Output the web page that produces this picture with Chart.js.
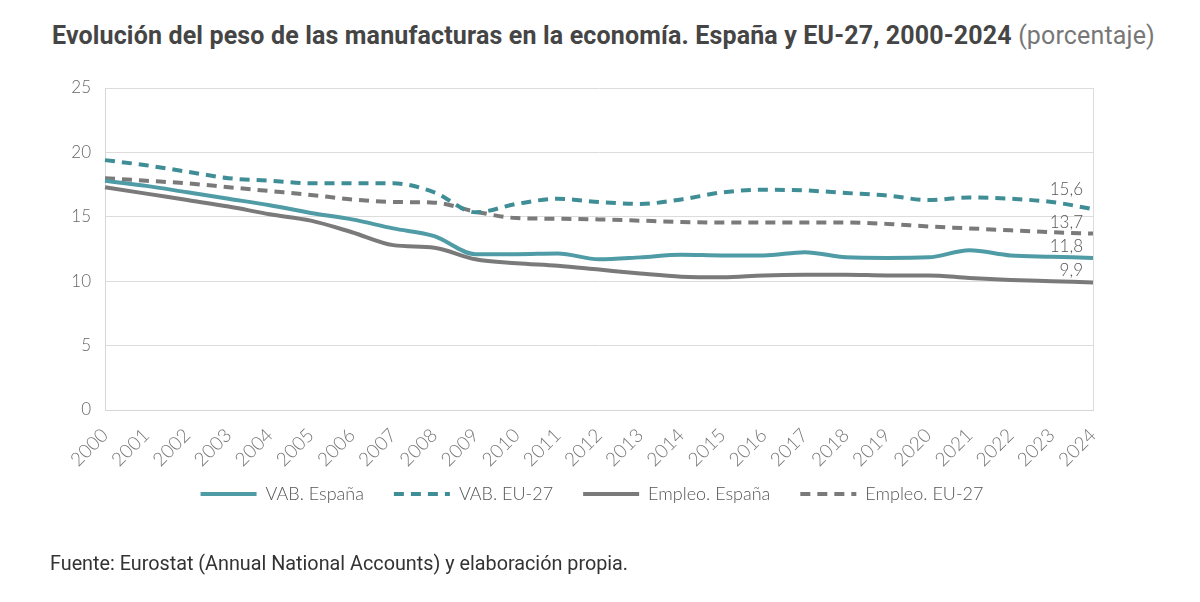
<!DOCTYPE html>
<html lang="es">
<head>
    <meta charset="UTF-8" />
    <title>Evolución del peso de las manufacturas</title>
    <script src="https://cdn.jsdelivr.net/npm/chart.js"></script>
    <style>
        * { box-sizing: border-box; margin: 0; padding: 0; }
        body { width: 1200px; height: 602px; background: #fff; position: relative; overflow: hidden; }
        .title {
            position: absolute; left: 52px; top: 21px;
            font-family: 'Roboto', sans-serif; letter-spacing: 0.15px;
            font-size: 25px; font-weight: 700; color: #454545; white-space: nowrap;
        }
        .title span { font-weight: 400; color: #777; }
        .source {
            position: absolute; left: 50px; top: 552px;
            font-family: 'Roboto', sans-serif;
            font-size: 19.8px; color: #333; white-space: nowrap;
        }
        .chart-box { position: absolute; left: 0; top: 0; width: 1200px; height: 602px; }
    </style>
</head>
<body>
    <div class="title">Evolución del peso de las manufacturas en la economía. España y EU-27, 2000-2024 <span>(porcentaje)</span></div>
    <div class="chart-box"><canvas id="chart"></canvas></div>
    <div class="source">Fuente: Eurostat (Annual National Accounts) y elaboración propia.</div>

    <script>
        const years = ['2000','2001','2002','2003','2004','2005','2006','2007','2008','2009','2010','2011','2012',
                       '2013','2014','2015','2016','2017','2018','2019','2020','2021','2022','2023','2024'];
        const vabEspana = [17.8, 17.4, 16.9, 16.4, 15.9, 15.3, 14.8, 14.1, 13.5, 12.1, 12.1, 12.15, 11.7,
                           11.85, 12.05, 12.0, 12.0, 12.25, 11.85, 11.8, 11.85, 12.4, 12.0, 11.9, 11.8];
        const vabEU = [19.4, 19.0, 18.5, 18.0, 17.8, 17.6, 17.6, 17.6, 16.9, 15.35, 16.0, 16.4, 16.15,
                       16.0, 16.35, 16.9, 17.1, 17.05, 16.85, 16.65, 16.3, 16.5, 16.4, 16.15, 15.6];
        const empleoEspana = [17.3, 16.8, 16.3, 15.8, 15.2, 14.7, 13.8, 12.8, 12.6, 11.7, 11.4, 11.2, 10.9,
                              10.6, 10.35, 10.3, 10.45, 10.5, 10.5, 10.45, 10.45, 10.25, 10.1, 10.0, 9.9];
        const empleoEU = [18.0, 17.8, 17.6, 17.3, 17.0, 16.7, 16.35, 16.15, 16.1, 15.4, 14.9, 14.85, 14.8,
                          14.7, 14.6, 14.55, 14.55, 14.55, 14.55, 14.45, 14.25, 14.1, 13.95, 13.8, 13.7];
        const yTicks = [0, 5, 10, 15, 20, 25];

        const TEAL = '#4f9ca6';
        const TEAL_DARK = '#3f8e96';
        const GREY = '#7b7a7b';

        // end-of-line value labels ("15,6" etc), nudged up a bit like the original
        const endLabels = {
            id: 'endLabels',
            afterDatasetsDraw(chart) {
                const { ctx } = chart;
                const lift = [12, 20, 12, 11];
                ctx.save();
                ctx.font = '300 17px Lato';
                ctx.fillStyle = '#555';
                ctx.textAlign = 'right';
                ctx.textBaseline = 'middle';
                chart.data.datasets.forEach((ds, i) => {
                    const pts = chart.getDatasetMeta(i).data;
                    const last = pts[pts.length - 1];
                    const v = ds.data[ds.data.length - 1];
                    ctx.fillText(v.toFixed(1).replace('.', ','), last.x - 10, last.y - lift[i]);
                });
                ctx.restore();
            }
        };

        // the x axis box is kept short so the legend sits high; let the rotated
        // year labels spill below it instead of being clipped
        const unclipYears = {
            id: 'unclipYears',
            afterLayout(chart) {
                chart.scales.x.bottom += 30;
            }
        };

        new Chart(document.getElementById('chart'), {
            type: 'line',
            data: {
                labels: years,
                datasets: [
                    { label: 'VAB. España', data: vabEspana, borderColor: TEAL, borderWidth: 4 },
                    { label: 'VAB. EU-27', data: vabEU, borderColor: TEAL_DARK, borderWidth: 4, borderDash: [10, 7] },
                    { label: 'Empleo. España', data: empleoEspana, borderColor: GREY, borderWidth: 4 },
                    { label: 'Empleo. EU-27', data: empleoEU, borderColor: GREY, borderWidth: 4, borderDash: [10, 7] }
                ]
            },
            options: {
                responsive: true,
                maintainAspectRatio: false,
                animation: false,
                elements: {
                    point: { radius: 0 },
                    line: { tension: 0.3, cubicInterpolationMode: 'monotone', borderCapStyle: 'butt' }
                },
                layout: { padding: { top: 88, left: 40, right: 56, bottom: 89 } },
                plugins: {
                    legend: {
                        position: 'bottom',
                        labels: {
                            usePointStyle: true,
                            pointStyle: 'line',
                            pointStyleWidth: 56,
                            padding: 30,
                            color: '#555',
                            font: { family: 'Lato', size: 18, weight: 300 },
                            // point-style legend items lose the dash, put it back from the dataset
                            generateLabels(chart) {
                                const items = Chart.defaults.plugins.legend.labels.generateLabels(chart);
                                items.forEach(it => {
                                    const ds = chart.data.datasets[it.datasetIndex];
                                    it.lineDash = ds.borderDash || [];
                                    it.lineWidth = 4;
                                    it.strokeStyle = ds.borderColor;
                                });
                                return items;
                            }
                        }
                    },
                    tooltip: { enabled: false }
                },
                scales: {
                    x: {
                        offset: false,
                        ticks: {
                            color: '#777', font: { family: 'Lato', size: 19, weight: 300 },
                            minRotation: 45, maxRotation: 45, padding: 14
                        },
                        grid: {
                            drawTicks: false,
                            color: c => c.index === years.length - 1 ? '#dcdcdc' : 'transparent'
                        },
                        border: { color: '#d6d6d6' },
                        afterFit: s => { s.height = 45; }
                    },
                    y: {
                        min: 0, max: 25,
                        afterBuildTicks: s => { s.ticks = yTicks.map(v => ({ value: v })); },
                        ticks: { color: '#666', font: { family: 'Lato', size: 17, weight: 300 }, padding: 14 },
                        grid: { color: '#dcdcdc', drawTicks: false },
                        border: { color: '#d6d6d6' },
                        afterFit: s => { s.width = 65; }
                    },
                    // empty spacer on the right so the legend centres like the original
                    yRight: {
                        position: 'right',
                        ticks: { display: false },
                        grid: { display: false },
                        border: { display: false },
                        afterFit: s => { s.width = 51; }
                    }
                }
            },
            plugins: [endLabels, unclipYears]
        });
    </script>
</body>
</html>
